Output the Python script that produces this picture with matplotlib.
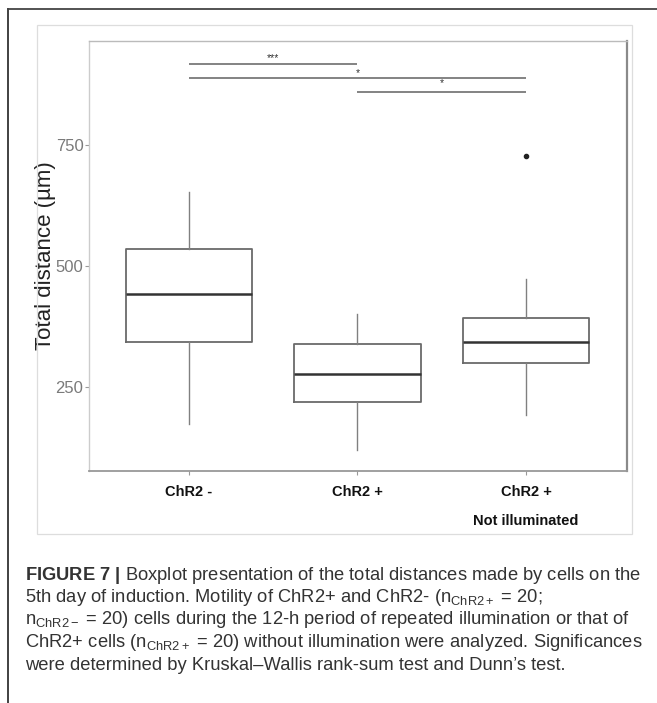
import matplotlib.pyplot as plt
from matplotlib.lines import Line2D
from matplotlib.patches import Rectangle

# --------- Data ---------
groups = ["ChR2 -", "ChR2 +", "ChR2 +\nNot illuminated"]
whisker_low = [172, 119, 191]
box_low = [343, 218, 300]
medians = [441, 276, 342]
box_high = [535, 338, 392]
whisker_high = [653, 401, 474]
outliers = [[], [], [728]]

# significance brackets: (group a, group b), bar height, label, label height
bracket_pairs = [(1, 2), (1, 3), (2, 3)]
bracket_y = [918, 889, 861]
bracket_labels = ["***", "*", "*"]
bracket_label_y = [930, 900, 879]

y_ticks = [250, 500, 750]

# --------- Style ---------
plt.rcParams.update({
    "font.family": ["Liberation Sans", "DejaVu Sans"],
    "mathtext.fontset": "custom",
    "mathtext.rm": "Liberation Sans",
    "mathtext.it": "Liberation Sans:italic",
    "mathtext.bf": "Liberation Sans:bold",
})
W, H = 657, 703
fig = plt.figure(figsize=(W / 100, H / 100), dpi=100)
fig.patch.set_facecolor("white")


def fx(px):
    return px / W


def fy(py):
    return 1 - py / H


# outer black frame (top + left only visible) and light inner frame
fig.add_artist(Line2D([fx(8), fx(8)], [fy(9), 0], color="#333333", lw=1.3))
fig.add_artist(Line2D([fx(8), 1], [fy(9), fy(9)], color="#444444", lw=1.3))
fig.add_artist(Rectangle((fx(37), fy(534)), fx(632) - fx(37), fy(25) - fy(534),
                         fill=False, edgecolor="#dddddd", lw=0.9))

# --------- Boxplot ---------
ax = fig.add_axes([fx(89), fy(470.7), fx(627.3) - fx(89), fy(41) - fy(470.7)])
stats = []
for i in range(len(groups)):
    stats.append({
        "whislo": whisker_low[i], "q1": box_low[i], "med": medians[i],
        "q3": box_high[i], "whishi": whisker_high[i], "fliers": outliers[i],
    })
ax.bxp(
    stats, positions=[1, 2, 3], widths=0.75, showcaps=False,
    boxprops=dict(color="#6a6a6a", lw=1.3),
    whiskerprops=dict(color="#808080", lw=1.0),
    medianprops=dict(color="#333333", lw=1.8),
    flierprops=dict(marker="o", markersize=3, markerfacecolor="#222222",
                    markeredgecolor="#222222"),
)

for (a, b), yb, lab, yl in zip(bracket_pairs, bracket_y, bracket_labels, bracket_label_y):
    ax.plot([a, b], [yb, yb], color="#7a7a7a", lw=1.3, solid_capstyle="butt")
    ax.text((a + b) / 2, yl, lab, ha="center", va="center", fontsize=7.5, color="#333333")

ax.set_xlim(0.407, 3.601)
ax.set_ylim(76, 966)
ax.set_yticks(y_ticks)
ax.set_yticklabels([str(t) for t in y_ticks], fontsize=12, color="#7a7a7a")
ax.set_xticks([1, 2, 3])
ax.set_xticklabels(groups, fontsize=10.5, fontweight="bold", color="#111111", linespacing=2.4)
ax.tick_params(axis="y", length=3, width=0.8, color="#999999", pad=1)
ax.tick_params(axis="x", length=3, width=0.8, color="#999999", pad=7)
ax.set_ylabel("Total distance (µm)", fontsize=16, color="#222222")
ax.yaxis.set_label_coords(-0.061, 0.5)

ax.spines["top"].set_color("#bbbbbb")
ax.spines["top"].set_linewidth(1.0)
ax.spines["left"].set_color("#cccccc")
ax.spines["left"].set_linewidth(1.0)
ax.spines["right"].set_color("#8a8a8a")
ax.spines["right"].set_linewidth(1.6)
ax.spines["bottom"].set_color("#999999")
ax.spines["bottom"].set_linewidth(1.3)

# --------- Caption ---------
caption = [
    r"$\mathbf{FIGURE\ 7\ |}$ Boxplot presentation of the total distances made by cells on the",
    r"5th day of induction. Motility of ChR2+ and ChR2- ($\mathrm{n}_{\mathrm{ChR2+}}$ = 20;",
    r"$\mathrm{n}_{\mathrm{ChR2-}}$ = 20) cells during the 12-h period of repeated illumination or that of",
    r"ChR2+ cells ($\mathrm{n}_{\mathrm{ChR2+}}$ = 20) without illumination were analyzed. Significances",
    "were determined by Kruskal\u2013Wallis rank-sum test and Dunn\u2019s test.",
]
for k, line in enumerate(caption):
    fig.text(fx(25), fy(575 + 22.5 * k), line, ha="left", va="center",
             fontsize=13.2, color="#333333")

plt.savefig("out.png", dpi=100)
